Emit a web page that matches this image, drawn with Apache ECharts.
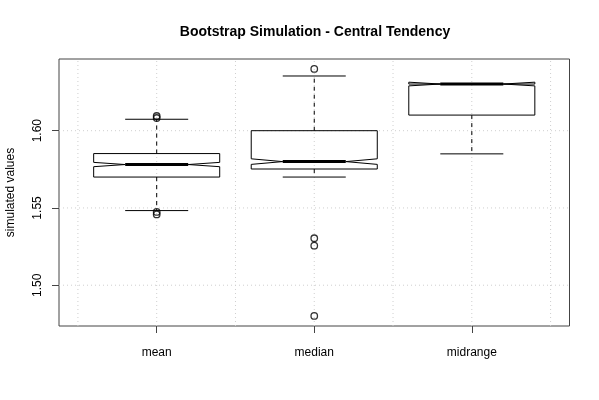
<!DOCTYPE html>
<html><head><meta charset="utf-8">
<script src="https://cdn.jsdelivr.net/npm/echarts@6/dist/echarts.min.js"></script>
<style>html,body{margin:0;padding:0;background:#fff}#c{width:599px;height:400px}</style>
</head><body><div id="c"></div>
<script>
// ---- data ----
const categories   = ['mean', 'median', 'midrange'];
const lowerWhisker = [1.5483, 1.5700, 1.5850];
const q1           = [1.5700, 1.5752, 1.6101];
const medians      = [1.5781, 1.5800, 1.6302];
const q3           = [1.5852, 1.6000, 1.6302];
const upperWhisker = [1.6074, 1.6354, 1.6302];
const notchLow     = [1.5767, 1.5782, 1.6290];
const notchHigh    = [1.5795, 1.5818, 1.6314];
const outlierGroup  = [1, 1, 1, 1, 2, 2, 2, 2];
const outlierValues = [1.6095, 1.6082, 1.5474, 1.5458, 1.6400, 1.5304, 1.5256, 1.4801];
const yTicks = [1.50, 1.55, 1.60];
const xTicks = [1, 2, 3];
const xGrid  = [0.5, 1, 1.5, 2, 2.5, 3, 3.5];
const yGrid  = [1.50, 1.55, 1.60];

const Y_MIN = 1.4736, Y_MAX = 1.6464, X_MIN = 0.38, X_MAX = 3.62;
const FONT = 'Liberation Sans, Arial, Helvetica, sans-serif';

const boxData = categories.map((c, i) => [i + 1, lowerWhisker[i], q1[i], medians[i], q3[i], upperWhisker[i], notchLow[i], notchHigh[i]]);
const gridData = xGrid.map(v => [0, v]).concat(yGrid.map(v => [1, v]));

const chart = echarts.init(document.getElementById('c'), null, {renderer: 'canvas'});
chart.setOption({
  animation: false,
  backgroundColor: '#fff',
  title: {
    text: 'Bootstrap Simulation - Central Tendency',
    left: 310, top: 20, textAlign: 'center',
    textStyle: {fontFamily: FONT, fontSize: 14, fontWeight: 'bold', color: '#000'}
  },
  grid: {left: 59, right: 29.5, top: 59, bottom: 74, show: true, borderColor: '#444', borderWidth: 1,
    backgroundColor: 'transparent', containLabel: false, outerBoundsMode: 'none'},
  xAxis: {
    type: 'value', min: X_MIN, max: X_MAX,
    axisLine: {show: false},
    splitLine: {show: false},
    axisTick: {show: true, length: 7, customValues: xTicks, lineStyle: {color: '#444'}},
    axisLabel: {customValues: xTicks, margin: 21, fontFamily: FONT, fontSize: 12, color: '#000',
      formatter: v => categories[Math.round(v) - 1] || ''}
  },
  yAxis: {
    type: 'value', min: Y_MIN, max: Y_MAX,
    name: 'simulated values', nameLocation: 'middle', nameGap: 42, nameRotate: 90,
    nameTextStyle: {fontFamily: FONT, fontSize: 12, color: '#000'},
    axisLine: {show: false},
    splitLine: {show: false},
    axisTick: {show: true, length: 7, customValues: yTicks, lineStyle: {color: '#444'}},
    axisLabel: {customValues: yTicks, rotate: 90, margin: 15, fontFamily: FONT, fontSize: 12, color: '#000',
      formatter: v => v.toFixed(2)}
  },
  series: [
    {
      type: 'custom', z: 1, silent: true, data: gridData,
      renderItem: (params, api) => {
        const kind = api.value(0), v = api.value(1);
        let a, b;
        if (kind === 0) { a = api.coord([v, Y_MIN]); b = api.coord([v, Y_MAX]); }
        else { a = api.coord([X_MIN, v]); b = api.coord([X_MAX, v]); }
        return {type: 'line', shape: {x1: a[0], y1: a[1], x2: b[0], y2: b[1]},
          style: {stroke: '#cfcfcf', lineWidth: 1, lineDash: [1, 3]}};
      }
    },
    {
      type: 'custom', z: 2, silent: true, data: boxData,
      renderItem: (params, api) => {
        const x = api.value(0);
        const lw = api.value(1), a = api.value(2), m = api.value(3), b = api.value(4),
              uw = api.value(5), nl = api.value(6), nh = api.value(7);
        const hw = 0.4, nf = 0.2, cap = 0.2;
        const P = (dx, v) => api.coord([x + dx, v]);
        const pts = [P(-hw, a), P(-hw, nl), P(-nf, m), P(-hw, nh), P(-hw, b), P(hw, b), P(hw, nh), P(nf, m), P(hw, nl), P(hw, a)];
        const ln = (p1, p2, style) => ({type: 'line', shape: {x1: p1[0], y1: p1[1], x2: p2[0], y2: p2[1]}, style: Object.assign({stroke: '#000', lineWidth: 1}, style || {})});
        return {type: 'group', children: [
          ln(P(0, a), P(0, lw), {lineDash: [4, 4]}),
          ln(P(0, b), P(0, uw), {lineDash: [4, 4]}),
          ln(P(-cap, lw), P(cap, lw)),
          ln(P(-cap, uw), P(cap, uw)),
          {type: 'polygon', shape: {points: pts}, style: {fill: 'none', stroke: '#000', lineWidth: 1}},
          ln(P(-nf, m), P(nf, m), {lineWidth: 3})
        ]};
      }
    },
    {
      type: 'scatter', z: 3, silent: true,
      data: outlierGroup.map((g, i) => [g, outlierValues[i]]),
      symbol: 'circle', symbolSize: 6.5,
      itemStyle: {color: 'rgba(0,0,0,0)', borderColor: '#000', borderWidth: 1.3}
    }
  ]
});
</script></body></html>
